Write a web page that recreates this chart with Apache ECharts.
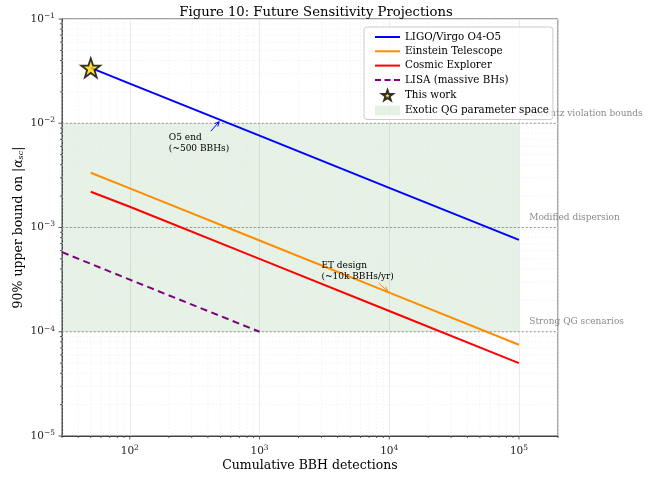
<!DOCTYPE html>
<html><head><meta charset="utf-8">
<script src="https://cdn.jsdelivr.net/npm/echarts@6.0.0/dist/echarts.min.js"></script>
<style>html,body{margin:0;padding:0;background:#fff}#c{width:662px;height:477px}</style>
</head><body><div id="c"></div><script>
// ---- data ----
const detections = [50, 100, 1000, 10000, 100000];
const ligoBound = [0.034, 0.024, 0.0076, 0.0024, 0.00076];
const etBound = [3.35e-3, 2.37e-3, 7.5e-4, 2.37e-4, 7.5e-5];
const ceBound = [2.2e-3, 1.58e-3, 5.0e-4, 1.58e-4, 5.0e-5];
const lisaDetections = [30, 100, 1000];
const lisaBound = [5.8e-4, 3.16e-4, 1.0e-4];
const thisWork = [[50, 0.034]];
const thresholds = [1e-2, 1e-3, 1e-4];
const thresholdLabels = ['Lorentz violation bounds', 'Modified dispersion', 'Strong QG scenarios'];
const thresholdLabelX = 1.2e5;
const bandDetections = [30, 1e5];
const bandBound = [1e-4, 1e-2];
const annotations = [
  {text: 'O5 end\n(~500 BBHs)', at: [500, 0.0107], textAt: [200, 5e-3], color: '#0000ff', w: 62},
  {text: 'ET design\n(~10k BBHs/yr)', at: [10000, 2.37e-4], textAt: [3000, 3e-4], color: '#ff8c00', w: 88}
];
const xRange = [30, 2e5];
const yRange = [1e-5, 1e-1];

const SERIF = 'DejaVu Serif';
const chart = echarts.init(document.getElementById('c'));

function pair(xs, ys) { return xs.map((x, i) => [x, ys[i]]); }
function isPow10(v) { const l = Math.log10(v); return Math.abs(l - Math.round(l)) < 1e-6; }
function powLabel(v) {
  if (!isPow10(v)) return '';
  const e = Math.round(Math.log10(v));
  return '{b|10}{s|' + (e < 0 ? '\u2212' : '') + Math.abs(e) + '}';
}
const labelRich = {
  b: {fontFamily: SERIF, fontSize: 10.5, color: '#222'},
  s: {fontFamily: SERIF, fontSize: 7.5, color: '#222', padding: [0, 0, 6, 0]}
};
function minorValues(range) {
  const out = [];
  for (let e = -6; e <= 6; e++) {
    for (let m = 2; m <= 9; m++) {
      const v = m * Math.pow(10, e);
      if (v >= range[0] * 0.9999 && v <= range[1] * 1.0001) out.push(v);
    }
  }
  return out;
}
function majorValues(range) {
  const out = [];
  for (let e = -6; e <= 6; e++) { const v = Math.pow(10, e); if (v >= range[0] * 0.9999 && v <= range[1] * 1.0001) out.push(v); }
  return out;
}

const star = 'path://M50,2 L61.8,36.2 L97.6,36.2 L68.6,57.6 L79.4,92 L50,71 L20.6,92 L31.4,57.6 L2.4,36.2 L38.2,36.2 Z';
const hiddenSymbol = {color: 'rgba(0,0,0,0)', borderWidth: 0, opacity: 0};

const option = {
  backgroundColor: '#fff',
  animation: false,
  title: {
    text: 'Figure 10: Future Sensitivity Projections',
    left: 311, top: 1, textAlign: 'center',
    textStyle: {fontFamily: SERIF, fontSize: 13.2, fontWeight: 'normal', color: '#000'}
  },
  grid: {left: 62, right: 104, top: 19, bottom: 41, outerBoundsMode: 'none', containLabel: false,
    show: true, borderColor: '#444', borderWidth: 1, backgroundColor: 'transparent'},
  legend: {
    orient: 'vertical', left: 364, top: 27,
    backgroundColor: 'rgba(255,255,255,0.8)', borderColor: '#cccccc', borderWidth: 1, borderRadius: 3,
    padding: [5, 4, 4, 10], itemGap: 4.3, itemWidth: 25, itemHeight: 10,
    textStyle: {fontFamily: SERIF, fontSize: 10.3, color: '#000'},
    data: [
      {name: 'LIGO/Virgo O4-O5', itemStyle: hiddenSymbol},
      {name: 'Einstein Telescope', itemStyle: hiddenSymbol},
      {name: 'Cosmic Explorer', itemStyle: hiddenSymbol},
      {name: 'LISA (massive BHs)', itemStyle: hiddenSymbol, lineStyle: {type: [6, 3.5]}},
      {name: 'This work'},
      {name: 'Exotic QG parameter space', icon: 'rect', itemStyle: {color: 'rgba(0,128,0,0.1)'}}
    ]
  },
  xAxis: {
    type: 'log', logBase: 10, min: xRange[0], max: xRange[1],
    name: 'Cumulative BBH detections', nameLocation: 'middle', nameGap: 23.5, nameMoveOverlap: false,
    nameTextStyle: {fontFamily: SERIF, fontSize: 12.5, color: '#000'},
    axisLine: {lineStyle: {color: '#444', width: 1}},
    axisTick: {show: false},
    axisLabel: {formatter: powLabel, rich: labelRich, margin: 8, showMinLabel: true, showMaxLabel: true},
    splitLine: {show: true, lineStyle: {color: '#e4e4e4', width: 0.8}}
  },
  yAxis: {
    type: 'log', logBase: 10, min: yRange[0], max: yRange[1],
    name: '90% upper bound on |{i|\u03b1}{sub|sc}|', nameLocation: 'middle', nameGap: 37, nameRotate: 90,
    nameMoveOverlap: false,
    nameTextStyle: {fontFamily: SERIF, fontSize: 12.5, color: '#000',
      rich: {i: {fontFamily: SERIF, fontSize: 12.5, fontStyle: 'italic', color: '#000'},
             sub: {fontFamily: SERIF, fontSize: 8, fontStyle: 'italic', color: '#000', padding: [5, 0, 0, 0]}}},
    axisLine: {lineStyle: {color: '#444', width: 1}},
    axisTick: {show: false},
    axisLabel: {formatter: powLabel, rich: labelRich, margin: 7},
    splitLine: {show: true, lineStyle: {color: '#e4e4e4', width: 0.8}}
  },
  series: [
    {
      name: 'Exotic QG parameter space', type: 'custom', z: 1, clip: true,
      itemStyle: {color: 'rgba(0,128,0,0.1)'},
      data: [[bandDetections[0], bandBound[0], bandDetections[1], bandBound[1]]],
      encode: {x: [0, 2], y: [1, 3]},
      renderItem: function (params, api) {
        const a = api.coord([api.value(0), api.value(1)]);
        const b = api.coord([api.value(2), api.value(3)]);
        return {type: 'rect', shape: {x: a[0], y: b[1], width: b[0] - a[0], height: a[1] - b[1]},
          style: {fill: 'rgba(0,128,0,0.1)'}};
      }
    },
    {
      name: 'minorGrid', type: 'custom', z: 1, clip: true, silent: true,
      data: [[xRange[0], yRange[0]]],
      renderItem: function (params, api) {
        const children = [];
        minorValues(xRange).forEach(v => {
          const p0 = api.coord([v, yRange[0]]), p1 = api.coord([v, yRange[1]]);
          children.push({type: 'line', shape: {x1: p0[0], y1: p0[1], x2: p1[0], y2: p1[1]},
            style: {stroke: '#ebebeb', lineWidth: 0.6, lineDash: [1.5, 2]}});
        });
        minorValues(yRange).forEach(v => {
          const p0 = api.coord([xRange[0], v]), p1 = api.coord([xRange[1], v]);
          children.push({type: 'line', shape: {x1: p0[0], y1: p0[1], x2: p1[0], y2: p1[1]},
            style: {stroke: '#ebebeb', lineWidth: 0.6, lineDash: [1.5, 2]}});
        });
        return {type: 'group', children: children};
      }
    },
    {
      name: 'thresholds', type: 'custom', z: 2, clip: false, silent: true,
      data: thresholds.map((t, i) => [thresholdLabelX, t, i]),
      renderItem: function (params, api) {
        const t = api.value(1);
        const p0 = api.coord([xRange[0], t]), p1 = api.coord([xRange[1], t]);
        const lp = api.coord([api.value(0), t * 1.2]);
        return {type: 'group', children: [
          {type: 'line', shape: {x1: p0[0], y1: p0[1], x2: p1[0], y2: p1[1]},
            style: {stroke: '#8c8c8c', lineWidth: 1.1, lineDash: [1.6, 2.4]}},
          {type: 'text', x: lp[0], y: lp[1] + 3, style: {text: thresholdLabels[api.value(2)],
            fontFamily: SERIF, fontSize: 9, fill: '#8a8a8a', align: 'left', verticalAlign: 'bottom'}}
        ]};
      }
    },
    {name: 'LIGO/Virgo O4-O5', type: 'line', z: 3, symbol: 'none', data: pair(detections, ligoBound),
      lineStyle: {color: '#0000ff', width: 2}, itemStyle: {color: '#0000ff'}},
    {name: 'Einstein Telescope', type: 'line', z: 3, symbol: 'none', data: pair(detections, etBound),
      lineStyle: {color: '#ff8c00', width: 2}, itemStyle: {color: '#ff8c00'}},
    {name: 'Cosmic Explorer', type: 'line', z: 3, symbol: 'none', data: pair(detections, ceBound),
      lineStyle: {color: '#ff0000', width: 2}, itemStyle: {color: '#ff0000'}},
    {name: 'LISA (massive BHs)', type: 'line', z: 3, symbol: 'none', data: pair(lisaDetections, lisaBound),
      lineStyle: {color: '#800080', width: 2, type: [7, 4.5]}, itemStyle: {color: '#800080'}},
    {name: 'This work', type: 'scatter', z: 5, symbol: star, symbolSize: 19, data: thisWork,
      itemStyle: {color: '#ffd700', borderColor: '#000', borderWidth: 1.8}},
    {
      name: 'annotations', type: 'custom', z: 4, clip: false, silent: true,
      data: annotations.map((a, i) => [a.textAt[0], a.textAt[1], i]),
      renderItem: function (params, api) {
        const a = annotations[api.value(2)];
        const tp = api.coord(a.textAt);
        const p = api.coord(a.at);
        const h = 22;
        const c = [tp[0] + a.w / 2, tp[1] - h / 2];
        const dx = p[0] - c[0], dy = p[1] - c[1];
        const len = Math.hypot(dx, dy);
        const ux = dx / len, uy = dy / len;
        let t = Math.min(Math.abs((h / 2) / dy || 1e9), Math.abs((a.w / 2) / dx || 1e9));
        t = Math.min(t * len + 2, len - 2);
        const s = [c[0] + ux * t, c[1] + uy * t];
        const e = [p[0] - ux * 2, p[1] - uy * 2];
        const hl = 5, ang = 0.45;
        const cos = Math.cos(ang), sin = Math.sin(ang);
        const b1 = [e[0] - hl * (ux * cos - uy * sin), e[1] - hl * (uy * cos + ux * sin)];
        const b2 = [e[0] - hl * (ux * cos + uy * sin), e[1] - hl * (uy * cos - ux * sin)];
        const children = [
          {type: 'text', x: tp[0], y: tp[1], style: {text: a.text, fontFamily: SERIF, fontSize: 9,
            lineHeight: 11, fill: '#000', align: 'left', verticalAlign: 'bottom'}}
        ];
        if (Math.hypot(e[0] - s[0], e[1] - s[1]) > 1) {
          children.push({type: 'line', shape: {x1: s[0], y1: s[1], x2: e[0], y2: e[1]}, style: {stroke: a.color, lineWidth: 1}});
        }
        children.push({type: 'polyline', shape: {points: [b1, e, b2]}, style: {stroke: a.color, lineWidth: 1, fill: null}});
        return {type: 'group', children: children};
      }
    },
    {
      name: 'ticks', type: 'custom', z: 6, clip: false, silent: true,
      data: [[xRange[0], yRange[0]]],
      renderItem: function (params, api) {
        const children = [];
        const addX = (v, L) => { const p = api.coord([v, yRange[0]]);
          children.push({type: 'line', shape: {x1: p[0], y1: p[1], x2: p[0], y2: p[1] + L}, style: {stroke: '#333', lineWidth: 0.8}}); };
        const addY = (v, L) => { const p = api.coord([xRange[0], v]);
          children.push({type: 'line', shape: {x1: p[0], y1: p[1], x2: p[0] - L, y2: p[1]}, style: {stroke: '#333', lineWidth: 0.8}}); };
        majorValues(xRange).forEach(v => addX(v, 3.5));
        minorValues(xRange).forEach(v => addX(v, 2));
        majorValues(yRange).forEach(v => addY(v, 3.5));
        minorValues(yRange).forEach(v => addY(v, 2));
        return {type: 'group', children: children};
      }
    }
  ]
};
chart.setOption(option);
</script></body></html>
